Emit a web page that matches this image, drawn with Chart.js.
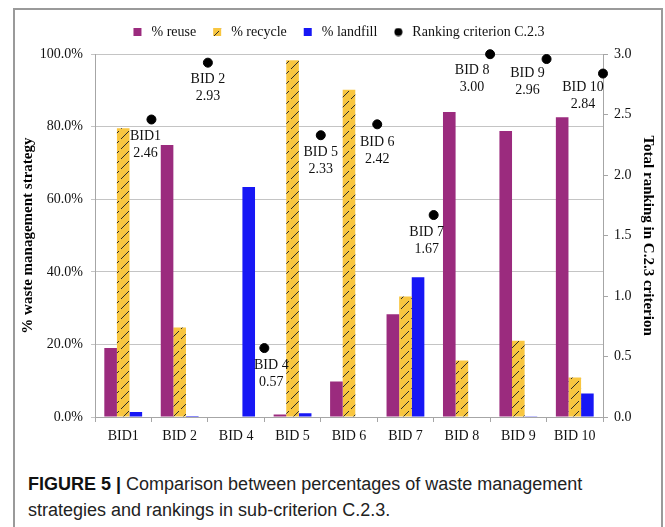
<!DOCTYPE html>
<html>
<head>
<meta charset="utf-8">
<script src="https://cdn.jsdelivr.net/npm/chart.js@4"></script>
<style>
  body { margin: 0; background: #fff; }
  #frame { position: absolute; left: 13px; top: 8px; width: 646px; height: 540px; border: 2px solid #9a9a9a; border-bottom: none; }
  #chart { position: absolute; left: 0; top: 0; }
  #caption { position: absolute; left: 28px; top: 471px; font-family: "Liberation Sans", Arial, sans-serif; font-size: 18px; line-height: 26px; color: #222; }
  #caption b { color: #111; }
</style>
</head>
<body>
<div id="frame"></div>
<canvas id="chart" width="665" height="460"></canvas>
<div id="caption"><b>FIGURE 5 |</b> Comparison between percentages of waste management<br>strategies and rankings in sub-criterion C.2.3.</div>
<script>
// Data
const categories = ["BID1", "BID 2", "BID 4", "BID 5", "BID 6", "BID 7", "BID 8", "BID 9", "BID 10"]
const reuse = [19.0, 75.0, 0, 0.7, 9.8, 28.3, 84.1, 78.8, 82.6]
const recycle = [79.6, 24.7, 0, 98.3, 90.2, 33.2, 15.6, 21.0, 10.9]
const landfill = [1.4, 0.3, 63.4, 1.0, 0, 38.5, 0, 0.2, 6.5]
const ranking = [2.46, 2.93, 0.57, 2.33, 2.42, 1.67, 3.00, 2.96, 2.84]

const serif = '"Liberation Serif", "Times New Roman", serif'

// hatched yellow fill for the recycle bars
function makeHatch() {
  const c = document.createElement("canvas")
  c.width = 10
  c.height = 10
  const g = c.getContext("2d")
  g.fillStyle = "#f8c640"
  g.fillRect(0, 0, 10, 10)
  g.strokeStyle = "#2b2b2b"
  g.lineWidth = 1
  g.beginPath()
  g.moveTo(1, 9)
  g.lineTo(9, 1)
  g.stroke()
  return g.createPattern(c, "repeat")
}

// small black dot for the legend entry of the ranking series
function makeDot() {
  const c = document.createElement("canvas")
  c.width = 9
  c.height = 9
  const g = c.getContext("2d")
  g.fillStyle = "#000"
  g.beginPath()
  g.arc(4.5, 4.5, 4, 0, Math.PI * 2)
  g.fill()
  return c
}

const hatch = makeHatch()
const dot = makeDot()

// "BID n / value" labels under each ranking point
const pointLabels = {
  id: "pointLabels",
  afterDatasetsDraw(chart, args, opts) {
    const meta = chart.getDatasetMeta(3)
    const ctx = chart.ctx
    ctx.save()
    ctx.font = "14px " + serif
    ctx.fillStyle = "#111"
    ctx.textAlign = "center"
    ctx.textBaseline = "middle"
    meta.data.forEach((pt, i) => {
      const x = pt.x + opts.dx[i]
      ctx.fillText(categories[i], x, pt.y + opts.dy[i])
      ctx.fillText(ranking[i].toFixed(2), x, pt.y + opts.dy[i] + 17)
    })
    ctx.restore()
  },
}

new Chart(document.getElementById("chart"), {
  type: "bar",
  data: {
    labels: categories,
    datasets: [
      { label: "% reuse", data: reuse, backgroundColor: "#9b2b7e", pointStyle: "rect" },
      { label: "% recycle", data: recycle, backgroundColor: hatch, pointStyle: "rect" },
      { label: "% landfill", data: landfill, backgroundColor: "#1717f5", pointStyle: "rect" },
      {
        type: "scatter",
        label: "Ranking criterion C.2.3",
        // in the original each ranking point sits on the right edge of its category
        parsing: false,
        data: ranking.map((v, i) => ({ x: i + 0.5, y: v })),
        yAxisID: "y2",
        clip: false,
        backgroundColor: "#000",
        borderColor: "#000",
        pointRadius: 4.5,
        pointStyle: "circle",
      },
    ],
  },
  options: {
    responsive: false,
    animation: false,
    layout: { padding: { left: 18, right: 8, top: 11, bottom: 0 } },
    datasets: { bar: { categoryPercentage: 0.67, barPercentage: 1 } },
    plugins: {
      tooltip: { enabled: false },
      legend: {
        weight: 3000,
        labels: {
          usePointStyle: true,
          boxHeight: 8,
          padding: 14,
          color: "#111",
          font: { family: serif, size: 14 },
          generateLabels(chart) {
            const items = Chart.defaults.plugins.legend.labels.generateLabels(chart)
            items.forEach((it) => {
              if (it.datasetIndex === 3) it.pointStyle = dot
            })
            return items
          },
        },
      },
      subtitle: { display: true, text: "", font: { size: 1 }, padding: { top: 0, bottom: 4 } },
      pointLabels: {
        dx: [-6, 0, 7, 0, 0, -7, -18, -19, -20],
        dy: [17, 17, 17, 17, 18, 17, 16, 14, 14],
      },
    },
    scales: {
      x: {
        min: categories[0],
        max: categories[categories.length - 1],
        grid: { offset: true, drawOnChartArea: false, tickLength: 5, color: "#a6a6a6" },
        border: { color: "#a6a6a6" },
        ticks: { color: "#111", padding: 6, font: { family: serif, size: 14 } },
        afterFit(scale) { scale.height = 43 },
      },
      y: {
        position: "left",
        min: 0,
        max: 100,
        grid: { color: "#c4c4c4", tickLength: 4 },
        border: { color: "#a6a6a6" },
        ticks: {
          stepSize: 20,
          padding: 8,
          color: "#111",
          font: { family: serif, size: 14 },
          callback: (v) => v.toFixed(1) + "%",
        },
        title: {
          display: true,
          text: "% waste management strategy",
          color: "#000",
          font: { family: serif, size: 15, weight: "bold" },
          padding: 1,
        },
        afterFit(scale) { scale.width = 77 },
      },
      y2: {
        position: "right",
        min: 0,
        max: 3,
        grid: { drawOnChartArea: false, tickLength: 5, color: "#a6a6a6" },
        border: { color: "#a6a6a6" },
        ticks: {
          stepSize: 0.5,
          padding: 6,
          color: "#111",
          font: { family: serif, size: 14 },
          callback: (v) => v.toFixed(1),
        },
        title: {
          display: true,
          text: "Total ranking in C.2.3 criterion",
          color: "#000",
          font: { family: serif, size: 15, weight: "bold" },
          padding: 0,
        },
        afterFit(scale) { scale.width = 54 },
      },
    },
  },
  plugins: [pointLabels],
})
</script>
</body>
</html>
